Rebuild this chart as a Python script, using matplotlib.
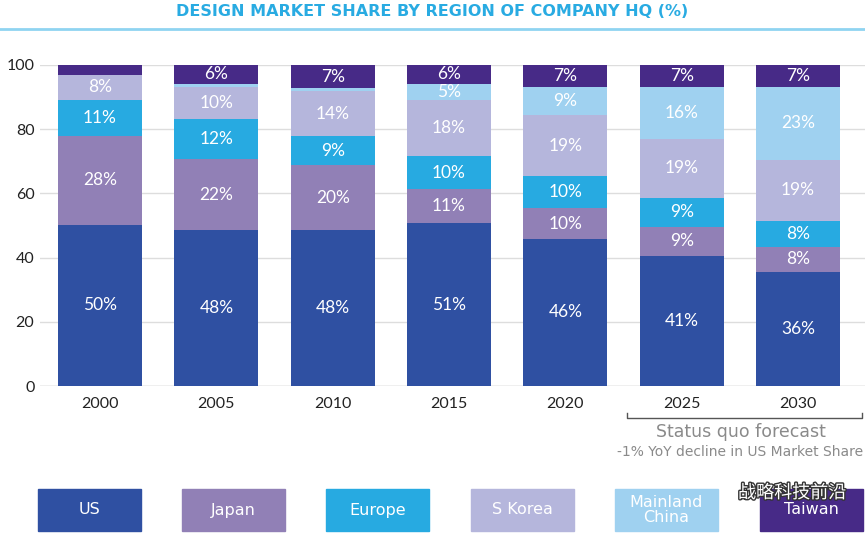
import matplotlib.pyplot as plt
import matplotlib.patheffects as pe
from matplotlib.patches import Rectangle
from matplotlib.transforms import blended_transform_factory
import numpy as np

# Data (segment heights, % of market)
years = ['2000', '2005', '2010', '2015', '2020', '2025', '2030']
regions = ['US', 'Japan', 'Europe', 'S Korea', 'Mainland\nChina', 'Taiwan']
us = [50.2, 48.6, 48.6, 50.7, 45.8, 40.6, 35.6]
japan = [27.7, 22.0, 20.2, 10.7, 9.6, 9.0, 7.8]
europe = [11.2, 12.5, 9.0, 10.1, 10.1, 9.0, 8.1]
skorea = [7.8, 10.2, 14.1, 17.7, 18.8, 18.5, 18.9]
china = [0.0, 0.8, 1.0, 4.9, 9.0, 16.1, 22.8]
taiwan = [3.1, 5.9, 7.0, 6.0, 6.7, 6.7, 6.7]

# Printed labels (empty where the chart shows none)
us_lbl = ['50%', '48%', '48%', '51%', '46%', '41%', '36%']
japan_lbl = ['28%', '22%', '20%', '11%', '10%', '9%', '8%']
europe_lbl = ['11%', '12%', '9%', '10%', '10%', '9%', '8%']
skorea_lbl = ['8%', '10%', '14%', '18%', '19%', '19%', '19%']
china_lbl = ['', '', '', '5%', '9%', '16%', '23%']
taiwan_lbl = ['', '6%', '7%', '6%', '7%', '7%', '7%']

colors = ['#2f50a2', '#9180b6', '#27aae1', '#b5b6dc', '#9fd1f0', '#472a87']

W, H = 865, 533
fig = plt.figure(figsize=(W / 100, H / 100), dpi=100)
fig.patch.set_facecolor('white')

# Title and rule under it
fig.text(432 / W, 1 - 12 / H, 'DESIGN MARKET SHARE BY REGION OF COMPANY HQ (%)',
         ha='center', va='center', fontsize=11.5, fontweight='bold', color='#29abe2')
fig.add_artist(plt.Line2D([0, 1], [1 - 29 / H, 1 - 29 / H], transform=fig.transFigure,
                          color='#8fd4f1', lw=2))

# Main axes
ax = fig.add_axes([40 / W, 1 - 386 / H, 825 / W, 321 / H])
x = np.arange(len(years))
series = [us, japan, europe, skorea, china, taiwan]
labels = [us_lbl, japan_lbl, europe_lbl, skorea_lbl, china_lbl, taiwan_lbl]
bottom = np.zeros(len(years))
for vals, lbls, c in zip(series, labels, colors):
    vals = np.array(vals)
    ax.bar(x, vals, bottom=bottom, width=0.72, color=c, zorder=3)
    for xi, b, v, t in zip(x, bottom, vals, lbls):
        if t:
            ax.text(xi, b + v / 2, t, ha='center', va='center', color='white',
                    fontsize=12.5, family='Lato', zorder=4)
    bottom += vals

ax.set_xlim(-0.516, 6.576)
ax.set_ylim(0, 100)
ax.set_yticks([0, 20, 40, 60, 80, 100])
ax.set_xticks(x)
ax.set_xticklabels(years)
ax.tick_params(axis='both', length=0, labelsize=11.5, colors='#222222')
ax.tick_params(axis='x', pad=8)
ax.tick_params(axis='y', pad=4)
for lab in ax.get_xticklabels() + ax.get_yticklabels():
    lab.set_family('Lato')
ax.grid(axis='y', color='#dddddd', lw=1, zorder=0)
for s in ax.spines.values():
    s.set_visible(False)
ax.axhline(0, color='#cccccc', lw=1, zorder=2)

# Forecast bracket
tr = blended_transform_factory(ax.transData, fig.transFigure)
yb, yt = 1 - 418 / H, 1 - 413 / H
ax.plot([4.53, 4.53, 6.55, 6.55], [yt, yb, yb, yt], transform=tr, color='#555555',
        lw=1, clip_on=False)
fig.text(741 / W, 1 - 432 / H, 'Status quo forecast', ha='center', va='center',
         fontsize=12.5, color='#8a8a8a')
fig.text(740 / W, 1 - 452 / H, '-1% YoY decline in US Market Share', ha='center',
         va='center', fontsize=10, color='#8a8a8a')

# Legend boxes
box_left = [38, 182, 326, 471, 615, 760]
for bx, name, c in zip(box_left, regions, colors):
    fig.add_artist(Rectangle((bx / W, 1 - 531 / H), 103 / W, 42 / H,
                             transform=fig.transFigure, color=c))
    fig.text((bx + 51.5) / W, 1 - 510 / H, name, ha='center', va='center',
             color='white', fontsize=11.5, linespacing=1.0)

# Watermark overlay
fig.text(792 / W, 1 - 493 / H, '战略科技前沿', ha='center', va='center', fontsize=13,
         color='white', family=['Noto Sans CJK SC', 'DejaVu Sans'],
         path_effects=[pe.withStroke(linewidth=2, foreground='#333333')])

fig.savefig('out.png', dpi=100)
